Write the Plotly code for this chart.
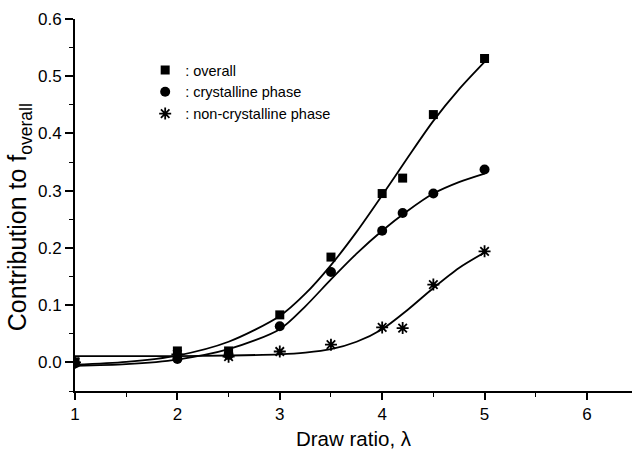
import plotly.graph_objects as go

# Measured data points
draw_ratio = [1, 2, 2.5, 3, 3.5, 4, 4.2, 4.5, 5]
overall = [0.001, 0.020, 0.020, 0.083, 0.184, 0.295, 0.322, 0.433, 0.531]
crystalline = [-0.002, 0.006, 0.013, 0.063, 0.158, 0.230, 0.261, 0.295, 0.337]
non_crystalline = [0.000, 0.014, 0.010, 0.019, 0.031, 0.061, 0.060, 0.136, 0.194]

# Fitted curves
fit_x = [1, 1.5, 2, 2.5, 3, 3.25, 3.5, 3.75, 4, 4.25, 4.5, 4.75, 5]
overall_fit = [-0.004, 0.001, 0.012, 0.036, 0.081, 0.120, 0.170, 0.228, 0.292, 0.358, 0.422, 0.477, 0.525]
crystalline_fit = [-0.006, -0.003, 0.005, 0.023, 0.058, 0.098, 0.145, 0.190, 0.230, 0.265, 0.295, 0.315, 0.330]
non_crystalline_fit = [0.011, 0.011, 0.011, 0.012, 0.014, 0.017, 0.023, 0.036, 0.058, 0.092, 0.130, 0.165, 0.192]

legend_names = [": overall", ": crystalline phase", ": non-crystalline phase"]
x_ticks = [1, 2, 3, 4, 5, 6]

FONT = "Liberation Sans, Arial, Helvetica, sans-serif"

fig = go.Figure()
for fy in [overall_fit, crystalline_fit, non_crystalline_fit]:
    fig.add_trace(go.Scatter(x=fit_x, y=fy, mode="lines", line=dict(color="black", width=1.8, shape="spline", smoothing=0.8),
                             showlegend=False, hoverinfo="skip"))

fig.add_trace(go.Scatter(x=draw_ratio, y=overall, mode="markers", name=legend_names[0],
                         marker=dict(symbol="square", size=9, color="black")))
fig.add_trace(go.Scatter(x=draw_ratio, y=crystalline, mode="markers", name=legend_names[1],
                         marker=dict(symbol="circle", size=10, color="black")))
fig.add_trace(go.Scatter(x=draw_ratio, y=non_crystalline, mode="markers", name=legend_names[2],
                         marker=dict(symbol="asterisk-open", size=10, color="black", line=dict(color="black", width=1.8))))

fig.update_layout(
    width=632, height=450,
    margin=dict(l=75, r=0, t=19, b=59),
    paper_bgcolor="white", plot_bgcolor="white",
    font=dict(family=FONT, color="black", size=17),
    legend=dict(x=0.126, y=0.906, xanchor="left", yanchor="top", bgcolor="rgba(0,0,0,0)",
                font=dict(size=14.5, family=FONT), itemwidth=30, tracegroupgap=0),
    xaxis=dict(range=[1, 6.44], tickvals=x_ticks, ticks="outside", ticklen=7, tickwidth=1.5,
               showline=True, linecolor="black", linewidth=1.8, showgrid=False, zeroline=False,
               minor=dict(dtick=0.5, tick0=1, ticks="outside", ticklen=4, tickwidth=1.2, tickcolor="black"),
               tickfont=dict(size=17), tickcolor="black",
               title=dict(text="Draw ratio, λ", font=dict(size=20.5), standoff=10)),
    yaxis=dict(range=[-0.05, 0.6], tick0=0, dtick=0.1, tickformat=".1f", ticks="outside", ticklen=8, tickwidth=1.5,
               showline=True, linecolor="black", linewidth=1.8, showgrid=False, zeroline=False,
               minor=dict(dtick=0.05, tick0=0, ticks="outside", ticklen=4, tickwidth=1.2, tickcolor="black"),
               tickfont=dict(size=17), tickcolor="black"),
    annotations=[dict(text="Contribution to f<sub>overall</sub>", textangle=-90, xref="paper", yref="paper",
                      x=-0.1, y=0.468, xanchor="center", yanchor="middle", showarrow=False,
                      font=dict(size=25, family=FONT))],
)

fig.write_html("out.html")
